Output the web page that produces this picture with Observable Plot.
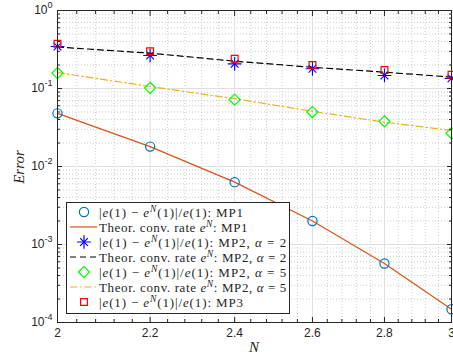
<!DOCTYPE html>
<html><head><meta charset="utf-8">
<script src="https://cdn.jsdelivr.net/npm/d3@7"></script>
<script src="https://cdn.jsdelivr.net/npm/@observablehq/plot@0.6"></script>
<style>body{margin:0;background:#fff}</style>
</head><body><div id="chart"></div>
<script>
const N = [2, 2.2, 2.4, 2.6, 2.8, 3];
const errMP1 = [0.048, 0.018, 0.0063, 0.0020, 0.00057, 0.000148];
const rateMP1 = [0.048, 0.018, 0.0063, 0.0020, 0.00057, 0.000148];
const errMP2a2 = [0.345, 0.265, 0.207, 0.179, 0.147, 0.135];
const rateMP2a2 = [0.34, 0.284, 0.224, 0.187, 0.162, 0.14];
const errMP2a5 = [0.158, 0.102, 0.072, 0.050, 0.038, 0.0267];
const rateMP2a5 = [0.16, 0.106, 0.074, 0.051, 0.037, 0.029];
const errMP3 = [0.374, 0.30, 0.24, 0.20, 0.173, 0.15];
const xTicks = [2, 2.2, 2.4, 2.6, 2.8, 3];
const xTickLabels = ["2", "2.2", "2.4", "2.6", "2.8", "3"];
const xMinor = [2.04,2.08,2.12,2.16,2.24,2.28,2.32,2.36,2.44,2.48,2.52,2.56,2.64,2.68,2.72,2.76,2.84,2.88,2.92,2.96];
const yTicks = [1e-4, 1e-3, 1e-2, 1e-1, 1];
const yExponents = ["-4", "-3", "-2", "-1", "0"];
const yMinorMant = [2,3,4,5,6,7,8,9];
const legendLabels = [
  "$|e(1)-e^N(1)|/e(1)$: MP1",
  "Theor. conv. rate $e^N$: MP1",
  "$|e(1)-e^N(1)|/e(1)$: MP2, $α=2$",
  "Theor. conv. rate $e^N$: MP2, $α=2$",
  "$|e(1)-e^N(1)|/e(1)$: MP2, $α=5$",
  "Theor. conv. rate $e^N$: MP2, $α=5$",
  "$|e(1)-e^N(1)|/e(1)$: MP3"
];

// legend layout (pixel widths of each entry's text)
const legendTextWidths = [145, 149, 188, 188, 188, 188, 145];

const yMinor = [];
for (const p of yTicks.slice(0, -1)) for (const m of yMinorMant) yMinor.push(p * m);
const rows = (vals) => N.map((n, i) => ({N: n, v: vals[i]}));

const C = {mp1: "#0072BD", r1: "#D95319", star: "#0000FF", r2: "#000000", dia: "#00FF00", r5: "#EDB120", sq: "#FF0000"};
const dash2 = "6,4", dash5 = "7,3,1.5,3";
const serif = "'Liberation Serif', 'DejaVu Serif', serif";

const plot = Plot.plot({
  width: 453, height: 356,
  marginLeft: 57, marginRight: 2, marginTop: 10, marginBottom: 34,
  style: {fontFamily: "'Liberation Sans', Arial, sans-serif", fontSize: "12px", color: "#262626", background: "#fff"},
  x: {type: "log", domain: [2, 3]},
  y: {type: "log", domain: [1e-4, 1]},
  marks: [
    Plot.ruleX(xMinor, {stroke: "#b8b8b8", strokeDasharray: "1,2", strokeWidth: 0.7}),
    Plot.ruleY(yMinor, {stroke: "#b8b8b8", strokeDasharray: "1,2", strokeWidth: 0.7}),
    Plot.ruleX(xTicks, {stroke: "#dedede", strokeWidth: 1}),
    Plot.ruleY(yTicks, {stroke: "#dedede", strokeWidth: 1}),
    Plot.line(rows(rateMP1), {x: "N", y: "v", stroke: C.r1, strokeWidth: 1.2}),
    Plot.line(rows(rateMP2a2), {x: "N", y: "v", stroke: C.r2, strokeWidth: 1.2, strokeDasharray: dash2}),
    Plot.line(rows(rateMP2a5), {x: "N", y: "v", stroke: C.r5, strokeWidth: 1.2, strokeDasharray: dash5}),
    Plot.dot(rows(errMP1), {x: "N", y: "v", r: 4.6, stroke: C.mp1, strokeWidth: 1.2, fill: "none"}),
    Plot.dot(rows(errMP2a2), {x: "N", y: "v", r: 4.5, symbol: "plus", stroke: C.star, strokeWidth: 1.1}),
    Plot.dot(rows(errMP2a2), {x: "N", y: "v", r: 3.6, symbol: "times", stroke: C.star, strokeWidth: 1.1}),
    Plot.dot(rows(errMP2a5), {x: "N", y: "v", r: 5, symbol: "diamond2", stroke: C.dia, strokeWidth: 1.2, fill: "none"}),
    Plot.dot(rows(errMP3), {x: "N", y: "v", r: 4.3, symbol: "square2", stroke: C.sq, strokeWidth: 1.2, fill: "none"}),
    Plot.frame({stroke: "#262626", strokeWidth: 1}),
    // inward ticks
    Plot.axisX(xTicks, {anchor: "bottom", tickSize: 5, dy: -5, tickFormat: () => "", label: null}),
    Plot.axisX(xMinor, {anchor: "bottom", tickSize: 3, dy: -3, tickFormat: () => "", label: null}),
    Plot.axisX(xTicks, {anchor: "top", tickSize: 5, dy: 5, tickFormat: () => "", label: null}),
    Plot.axisX(xMinor, {anchor: "top", tickSize: 3, dy: 3, tickFormat: () => "", label: null}),
    Plot.axisY(yTicks, {anchor: "left", tickSize: 5, dx: 5, tickFormat: () => "", label: null}),
    Plot.axisY(yMinor, {anchor: "left", tickSize: 3, dx: 3, tickFormat: () => "", label: null}),
    Plot.axisY(yTicks, {anchor: "right", tickSize: 5, dx: -5, tickFormat: () => "", label: null}),
    Plot.axisY(yMinor, {anchor: "right", tickSize: 3, dx: -3, tickFormat: () => "", label: null}),
    // labels
    Plot.axisX(xTicks, {anchor: "bottom", tickSize: 0, tickPadding: 6, tickFormat: (d) => xTickLabels[xTicks.indexOf(d)], label: null, fill: "#262626"}),
    Plot.axisY(yTicks, {anchor: "left", tickSize: 0, tickPadding: 5, tickFormat: d => "10^" + yExponents[yTicks.indexOf(d)], label: null, fill: "#262626"})
  ]
});
document.getElementById("chart").appendChild(plot);

const svg = d3.select(plot);
// superscripts on y tick labels
svg.selectAll("text").each(function() {
  const t = this.textContent;
  if (t.startsWith("10^")) {
    const el = d3.select(this);
    el.text("");
    el.append("tspan").text("10");
    el.append("tspan").attr("dy", "-6").attr("font-size", "9px").text(t.slice(3));
  }
});

// axis titles
svg.append("text").attr("transform", "translate(24,167) rotate(-90)").attr("text-anchor", "middle")
  .attr("font-family", serif).attr("font-style", "italic").attr("font-size", "15px").attr("fill", "#262626").text("Error");
svg.append("text").attr("x", 254).attr("y", 352).attr("text-anchor", "middle")
  .attr("font-family", serif).attr("font-style", "italic").attr("font-size", "15px").attr("fill", "#262626").text("N");

// legend
const lg = svg.append("g").attr("text-anchor", "start");
lg.append("rect").attr("x", 66.5).attr("y", 202.5).attr("width", 223).attr("height", 111).attr("fill", "#fff").attr("stroke", "#262626").attr("stroke-width", 1);
const rowY = i => 212 + i * 15;
const sx = 84;
const sym = (type, size) => d3.symbol(type, size)();
const items = [
  {k: "sym", d: [[d3.symbolCircle, Math.PI * 4.6 * 4.6]], c: C.mp1},
  {k: "line", c: C.r1, dash: null},
  {k: "sym", d: [[d3.symbolPlus, Math.PI * 4.5 * 4.5], [d3.symbolTimes, Math.PI * 3.6 * 3.6]], c: C.star},
  {k: "line", c: C.r2, dash: dash2},
  {k: "sym", d: [[d3.symbolDiamond2, Math.PI * 25]], c: C.dia},
  {k: "line", c: C.r5, dash: dash5},
  {k: "sym", d: [[d3.symbolSquare2, Math.PI * 4.3 * 4.3]], c: C.sq}
];
items.forEach((it, i) => {
  const y = rowY(i);
  if (it.k === "line") {
    lg.append("line").attr("x1", 70).attr("x2", 97).attr("y1", y).attr("y2", y).attr("stroke", it.c).attr("stroke-width", 1.2).attr("stroke-dasharray", it.dash);
  } else {
    for (const [type, size] of it.d) {
      lg.append("path").attr("transform", `translate(${sx},${y})`).attr("d", sym(type, size)).attr("fill", "none").attr("stroke", it.c).attr("stroke-width", 1.2);
    }
  }
  const tx = lg.append("text").attr("x", 99).attr("y", y).attr("dy", "0.35em").attr("text-anchor", "start")
    .attr("font-family", serif).attr("font-size", "13px").attr("fill", "#262626");
  renderMath(tx, legendLabels[i]);
  const node = tx.node();
  const len = node.getComputedTextLength();
  const nChars = node.textContent.length;
  if (len > 0 && nChars > 1) {
    const ls = (legendTextWidths[i] - len) / nChars;
    tx.attr("letter-spacing", ls.toFixed(2) + "px");
  }
});

function renderMath(tx, str) {
  const parts = str.split("$");
  let sup = false;
  parts.forEach((p, i) => {
    if (i % 2 === 0) {
      if (p) { const ts = tx.append("tspan").text(p); if (sup) { ts.attr("dy", "5"); sup = false; } }
      return;
    }
    const chars = [...p];
    for (let j = 0; j < chars.length; j++) {
      let ch = chars[j];
      if (ch === "^") {
        const nxt = chars[++j];
        tx.append("tspan").attr("dy", "-5").attr("font-size", "9.5px").attr("font-style", "italic").text(nxt);
        sup = true; continue;
      }
      const ts = tx.append("tspan");
      if (sup) { ts.attr("dy", "5"); sup = false; }
      if (ch === "-") ts.text(" − ");
      else if (ch === "=") ts.text(" = ");
      else if (/[a-zA-Zα]/.test(ch)) ts.attr("font-style", "italic").text(ch);
      else ts.text(ch);
    }
  });
}
</script>
</body></html>
